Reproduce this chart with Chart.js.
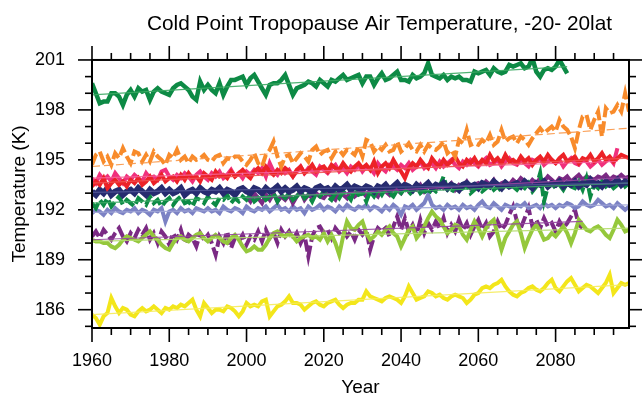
<!DOCTYPE html>
<html>
<head>
<meta charset="utf-8">
<script src="https://cdn.jsdelivr.net/npm/chart.js@4.4.1/dist/chart.umd.min.js"></script>
<style>
  html, body { margin: 0; padding: 0; background: #fff; }
  #wrap { width: 642px; height: 397px; }
</style>
</head>
<body>
<div id="wrap"><canvas id="cpt"></canvas></div>
<script>
// annual values, first year given next to each series
const greenStart = 1960;
const greenSolid = [
  199.6,199.0,198.4,198.5,198.5,199.0,199.0,198.8,198.3,198.9,
  199.2,198.8,199.3,199.1,199.2,198.6,199.1,199.3,199.1,199.0,
  198.9,199.3,199.5,199.6,199.4,199.2,198.8,198.6,199.7,199.2,
  199.5,199.2,199.0,199.6,198.9,199.4,199.8,199.8,199.9,200.0,
  199.5,199.9,200.1,199.7,199.3,198.9,199.5,199.6,199.6,199.8,
  200.1,199.5,198.9,199.3,199.4,199.5,199.7,199.6,199.4,199.8,
  199.6,199.4,199.8,199.7,199.9,200.1,199.8,199.9,200.0,200.1,
  199.6,200.0,200.0,199.5,199.9,200.2,199.8,199.9,200.1,200.3,
  199.8,199.8,199.7,200.1,199.9,200.0,200.2,200.8,200.1,200.0,
  199.9,200.1,199.8,200.0,199.9,200.0,199.8,199.8,199.7,200.3,
  200.2,200.3,200.4,200.1,200.5,200.3,200.2,200.3,200.7,200.6,
  200.7,200.8,200.5,200.6,201.1,200.3,200.0,200.4,200.5,200.4,
  200.6,201.0,200.6,200.2
];
const orangeStart = 1960;
const orangeDash = [
  194.7,195.3,195.5,194.9,195.2,194.7,195.4,195.1,195.7,195.2,
  194.8,195.5,195.4,194.9,195.3,194.9,195.5,195.2,195.0,194.7,
  195.3,195.1,195.6,195.0,195.2,194.8,195.2,195.0,195.1,195.3,
  195.0,194.9,195.2,195.3,194.8,195.1,195.0,195.2,195.2,194.9,
  194.7,195.0,195.4,194.8,194.6,195.3,195.6,196.1,195.2,194.6,
  195.2,195.3,194.8,195.1,195.4,195.2,194.9,195.6,195.8,195.3,
  195.5,195.6,195.1,195.5,195.6,195.3,195.6,195.5,195.3,195.8,
  195.2,196.2,196.1,195.5,195.8,195.6,195.9,195.5,195.6,196.1,
  195.5,195.7,196.0,195.6,195.5,195.9,195.5,195.9,195.7,195.6,
  195.8,196.1,195.4,195.6,195.2,196.2,196.0,196.8,195.9,196.0,
  195.9,196.2,196.0,196.5,195.9,196.1,196.8,196.1,196.3,196.4,
  196.0,196.4,196.2,195.9,196.3,196.6,196.9,196.6,196.8,197.0,
  196.7,197.4,197.0,196.8,196.4,195.7,196.8,197.6,197.7,196.8,
  197.4,197.9,196.4,198.1,197.8,197.9,198.3,197.9,199.0,197.9
];
const redStart = 1960;
const redSolid = [
  193.4,193.7,193.5,193.9,193.3,193.6,193.8,193.5,193.7,193.4,
  193.8,193.6,193.9,193.5,193.7,194.0,193.6,193.8,194.1,193.7,
  193.9,194.0,193.7,194.1,193.8,194.2,193.9,194.0,193.7,194.2,
  194.0,193.8,194.3,194.0,194.1,193.9,194.3,194.0,194.2,194.4,
  194.1,193.9,194.3,194.5,194.2,194.6,194.3,194.1,194.4,194.2,
  194.5,194.3,194.0,194.4,194.6,194.2,194.4,194.7,194.3,194.5,
  194.6,194.3,194.7,194.5,194.4,194.8,194.5,194.3,194.6,194.8,
  194.5,194.7,194.4,194.9,194.2,194.6,194.8,194.5,195.0,194.6,
  194.3,193.9,194.5,194.8,194.6,195.0,194.7,194.5,195.1,194.8,
  194.6,195.0,194.7,194.9,195.2,194.8,194.6,195.0,194.8,195.1,
  194.7,195.0,194.8,195.3,194.9,195.1,194.8,195.3,194.9,195.0,
  194.8,195.2,194.9,195.1,194.7,195.0,195.2,194.9,195.3,195.0,
  194.8,195.1,195.3,194.9,195.0,195.2,194.8,195.1,195.0,195.3,
  194.9,195.1,195.4,195.0,195.2,194.9,195.1,195.3,195.2,195.1
];
const pinkStart = 1960;
const pinkSolid = [
  193.9,193.6,194.1,193.8,194.0,193.7,194.2,193.9,193.6,194.0,
  193.8,194.1,193.9,193.7,194.2,193.9,194.0,193.8,194.3,194.4,
  194.0,193.8,194.1,193.9,194.2,194.0,193.7,194.1,194.3,194.0,
  193.8,194.2,194.0,194.3,193.9,194.1,194.4,194.0,194.2,193.9,
  194.3,194.1,194.4,194.2,194.5,194.0,194.8,194.3,194.1,194.5,
  194.2,194.4,194.0,194.3,194.6,194.2,194.5,194.3,194.1,194.6,
  194.4,194.2,194.5,194.7,194.3,194.5,194.2,194.6,194.4,194.7,
  194.3,194.6,194.5,194.2,194.8,194.5,194.3,194.7,194.6,194.4,
  194.7,194.5,194.8,194.4,194.6,194.9,194.5,194.7,194.8,194.5,
  194.9,194.6,194.8,195.0,194.7,194.5,194.9,194.7,195.0,194.8,
  194.6,194.9,195.1,194.7,194.8,195.0,194.6,194.9,195.1,194.8,
  194.7,195.0,194.8,194.6,195.0,194.9,195.1,194.7,194.9,195.0,
  194.8,195.0,194.6,194.9,195.1,194.8,194.7,195.0,194.9,194.6,
  194.8,195.0,194.7,194.9,195.1,194.8,195.7
];
const navyStart = 1960;
const navySolid = [
  193.1,192.9,193.2,193.0,193.3,192.9,193.1,193.2,192.9,193.1,
  193.2,193.0,193.3,193.1,192.9,193.2,193.0,193.1,193.3,193.0,
  193.2,193.0,193.1,193.3,192.9,193.1,193.2,193.0,193.3,193.1,
  193.0,193.2,193.1,193.3,193.0,193.2,193.1,192.9,193.2,193.3,
  193.1,193.0,193.3,193.2,193.0,193.3,193.1,193.2,193.4,193.1,
  193.3,193.1,193.2,193.4,193.1,193.3,193.2,193.0,193.3,193.4,
  193.2,193.3,193.1,193.4,193.2,193.3,193.5,193.2,193.4,193.3,
  193.2,193.4,193.3,193.1,193.4,193.3,193.5,193.2,193.4,193.6,
  193.3,193.5,193.4,193.2,193.5,193.3,193.4,193.6,193.3,193.5,
  193.4,193.6,193.3,193.5,193.4,193.2,193.5,193.6,193.4,193.5,
  193.3,193.6,193.5,193.4,193.7,193.5,193.3,193.6,193.4,193.5,
  193.6,193.4,193.7,193.5,193.3,193.6,193.5,193.7,193.4,193.6,
  193.5,193.7,193.4,193.6,193.5,193.7,193.4,193.6,193.5,193.8,
  193.5,193.6,193.4,193.7,193.5,193.6,193.8,193.5,193.7,193.6
];
const greenDashStart = 1960;
const greenDash = [
  192.4,192.1,192.6,192.3,192.7,192.2,192.5,192.8,192.3,192.6,
  192.4,192.2,192.7,192.5,192.3,192.8,192.4,192.6,192.2,192.5,
  192.7,192.3,192.6,192.8,192.4,192.5,192.2,192.7,192.6,192.4,
  192.8,192.5,192.3,192.7,192.6,192.9,192.4,192.7,192.5,192.8,
  192.6,192.9,192.5,192.7,192.9,192.6,192.8,193.0,192.5,192.9,
  192.7,193.0,192.6,192.8,193.1,192.7,192.9,192.5,193.0,192.8,
  193.1,192.8,192.6,193.0,192.7,193.1,192.9,192.6,193.2,192.9,
  193.0,192.5,193.1,192.8,193.2,192.9,193.3,193.0,192.8,193.2,
  193.0,193.3,192.9,193.1,193.4,193.0,193.2,192.9,193.3,193.1,
  193.4,194.0,193.2,193.0,193.4,193.1,193.3,193.5,193.0,193.2,
  193.4,193.1,193.3,193.5,193.2,193.4,193.1,193.6,193.3,193.4,
  193.2,193.5,193.3,193.6,193.1,193.4,194.2,192.5,193.4,193.6,
  193.3,193.5,193.2,193.6,193.4,193.3,193.7,193.2,193.9,192.8,
  193.5,193.3,193.7,193.4,193.6,193.3,193.5,193.8,193.4,193.6
];
const purpleStart = 2000;
const purpleSolid = [
  192.8,192.5,193.0,192.7,192.4,192.9,192.6,193.0,192.5,192.8,
  192.6,192.9,192.4,192.8,193.1,192.6,192.9,192.7,193.0,192.8,
  192.7,193.0,192.8,192.6,193.1,192.9,192.7,193.2,192.8,193.0,
  193.1,192.8,193.2,193.0,192.8,193.3,193.1,192.9,193.3,193.2,
  193.0,193.4,193.1,193.3,193.2,193.5,193.1,193.4,193.3,193.2,
  193.5,193.3,193.4,193.6,193.2,193.5,193.4,193.7,193.3,193.5,
  193.6,193.4,193.7,193.5,193.8,193.4,193.6,193.7,193.5,193.8,
  193.6,193.9,193.7,193.5,193.8,193.6,193.9,193.7,194.0,193.8,
  193.6,193.9,193.8,194.0,193.7,193.9,194.1,193.8,194.0,193.9,
  193.8,194.0,193.9,194.1,193.8,194.0,193.9,194.1,193.9,194.0
];
const lavenderStart = 1960;
const lavenderSolid = [
  191.8,192.0,191.9,191.7,192.0,191.8,192.1,191.9,191.8,192.0,
  191.9,192.1,191.8,192.0,191.9,191.7,192.0,191.9,192.1,191.3,
  191.9,192.0,191.8,192.1,191.9,192.0,191.8,192.1,192.0,191.9,
  192.1,191.9,192.0,191.8,192.2,192.0,191.9,192.1,192.0,191.8,
  192.2,192.0,191.9,192.1,192.0,192.2,191.9,192.1,192.3,192.0,
  192.1,191.9,192.2,192.0,192.1,191.8,192.2,192.0,192.1,192.3,
  192.0,192.2,192.1,191.9,192.2,192.0,192.3,192.1,192.0,192.2,
  192.1,192.3,192.0,192.2,192.1,191.9,192.2,192.0,192.3,192.1,
  191.7,192.2,192.1,192.3,192.0,192.2,192.4,192.9,192.3,192.1,
  192.2,192.0,192.3,192.1,192.2,192.0,192.3,192.1,192.2,192.0,
  192.3,192.5,192.2,192.1,192.4,192.2,192.0,192.3,192.2,192.1,
  192.3,192.2,192.4,192.1,192.2,192.3,192.1,192.4,192.2,192.3,
  192.1,192.3,192.2,192.4,192.3,192.1,192.2,192.5,192.3,192.2,
  192.3,192.6,192.4,192.2,192.3,192.1,192.4,192.2,192.0,192.2
];
const purpleDashStart = 1960;
const purpleDash = [
  190.4,190.7,190.3,190.8,190.5,190.2,190.6,190.9,190.4,190.1,
  190.6,190.3,190.8,190.5,190.9,190.2,190.6,190.0,190.7,190.4,
  189.9,190.6,190.2,190.8,190.0,190.5,190.3,189.8,190.6,190.2,
  190.5,190.0,189.3,190.4,190.0,190.7,189.7,190.3,190.1,190.5,
  189.9,190.4,190.2,190.7,190.1,190.8,190.3,190.6,190.0,190.8,
  190.4,190.7,190.2,190.6,190.0,190.5,189.2,190.4,190.9,191.0,
  190.6,190.8,190.3,190.9,190.6,190.8,190.4,190.7,190.2,190.8,
  190.5,190.8,189.6,190.4,190.9,190.7,190.9,190.4,191.0,191.6,
  190.8,191.5,190.7,191.1,190.5,191.4,190.6,191.2,190.8,191.3,
  190.9,191.5,190.6,191.1,190.7,191.4,190.8,191.2,190.5,191.0,
  191.4,190.8,191.2,190.4,190.7,191.3,190.8,191.1,191.7,192.2,
  191.3,190.9,191.5,192.1,191.0,191.4,190.9,191.5,191.0,191.2,
  190.7,191.3,190.9,191.2,191.6,192.0,191.1,190.9
];
const limeStart = 1960;
const limeSolid = [
  190.2,190.1,190.1,190.0,190.0,189.8,189.7,189.9,190.2,190.4,
  190.3,190.2,190.1,190.3,190.5,190.7,190.4,190.2,189.9,189.7,
  189.6,190.0,190.3,190.4,190.2,190.1,190.3,190.5,190.6,190.3,
  190.1,190.3,190.5,190.3,190.1,190.0,190.3,190.5,190.2,189.8,
  189.5,189.6,189.8,189.6,189.6,189.9,190.3,190.6,190.7,190.5,
  190.4,190.6,190.4,190.1,190.3,190.4,190.5,190.3,190.4,190.2,
  190.6,190.1,190.5,190.0,189.3,190.4,191.3,190.9,190.8,191.1,
  191.3,190.6,190.2,190.4,190.7,190.5,190.8,191.0,190.6,190.4,
  189.8,190.3,190.8,191.0,190.3,190.6,191.0,191.5,191.9,191.6,
  191.4,191.0,190.6,190.8,191.1,191.0,190.5,190.2,190.8,191.3,
  190.9,190.4,190.9,191.2,191.4,190.5,189.6,190.3,190.7,191.1,
  191.3,190.6,189.7,190.3,190.8,191.1,190.7,190.2,190.3,190.6,
  190.4,190.7,191.0,190.6,190.0,190.6,191.4,191.1,190.8,190.7,
  190.9,191.0,190.8,190.5,190.3,190.8,191.4,191.1,190.7,190.8
];
const yellowStart = 1960;
const yellowSolid = [
  185.7,185.5,185.1,185.6,185.8,186.7,186.2,185.8,186.1,186.0,
  185.7,185.6,185.9,186.1,185.9,186.0,186.2,186.0,185.8,186.1,
  186.0,186.2,186.1,186.3,186.2,186.4,186.6,186.0,185.6,186.4,
  186.1,185.8,186.0,186.0,185.9,186.2,186.1,185.9,185.6,185.9,
  186.4,186.2,186.3,186.2,186.5,186.6,185.6,185.9,186.2,186.3,
  186.5,186.8,186.4,186.4,186.3,186.0,186.2,186.4,186.5,186.3,
  186.2,186.4,186.5,186.6,186.3,186.1,186.3,186.4,186.4,186.6,
  186.6,187.1,186.8,186.7,186.6,186.5,186.7,186.8,186.7,186.6,
  186.4,186.8,187.4,187.0,186.6,186.7,186.8,187.1,187.0,186.8,
  186.9,186.7,186.6,186.8,186.9,186.8,186.7,186.4,186.6,186.9,
  187.0,187.3,187.4,187.3,187.5,187.6,187.8,187.4,187.1,186.9,
  186.8,187.0,187.1,187.3,187.4,187.2,187.1,187.3,187.6,187.8,
  187.3,187.1,187.4,187.7,187.9,187.5,187.1,187.3,187.5,187.4,
  187.2,187.0,187.3,187.6,188.1,187.0,187.3,187.6,187.5,187.6
];

// fitted trend lines: value at the first and at the last year of each series
const greenTrend = [198.9, 200.6];
const orangeTrend = [194.6, 196.9];
const redTrend = [193.6, 195.1];
const pinkTrend = [193.9, 194.9];
const navyTrend = [193.05, 193.6];
const greenDashTrend = [192.4, 193.6];
const purpleTrend = [192.7, 193.95];
const lavenderTrend = [191.85, 192.3];
const purpleDashTrend = [190.2, 191.3];
const limeTrend = [190.1, 190.9];
const yellowTrend = [185.7, 187.5];

const xTickLabels = [1960, 1980, 2000, 2020, 2040, 2060, 2080];
const yTickLabels = [186, 189, 192, 195, 198, 201];

const FONT = "'Liberation Sans', Arial, Helvetica, sans-serif";

function pts(start, vals) {
  return vals.map((v, i) => ({ x: start + i, y: v }));
}

function series(start, vals, color, width, dash) {
  return {
    data: pts(start, vals),
    borderColor: color,
    borderWidth: width,
    borderDash: dash || [],
    pointRadius: 0,
    tension: 0,
    fill: false
  };
}

function trend(start, vals, tr, color, dash) {
  const end = start + vals.length - 1;
  return {
    data: [{ x: start, y: tr[0] }, { x: end, y: tr[1] }],
    borderColor: color,
    borderWidth: 1.2,
    borderDash: dash || [],
    pointRadius: 0,
    fill: false
  };
}

// first in the list is drawn on top
const datasets = [
  trend(greenStart, greenSolid, greenTrend, 'rgba(60,170,100,0.9)'),
  trend(orangeStart, orangeDash, orangeTrend, 'rgba(250,150,70,0.9)', [8, 4]),
  trend(redStart, redSolid, redTrend, 'rgba(240,80,80,0.9)'),
  trend(pinkStart, pinkSolid, pinkTrend, 'rgba(245,100,150,0.9)'),
  trend(navyStart, navySolid, navyTrend, 'rgba(80,85,150,0.9)'),
  trend(greenDashStart, greenDash, greenDashTrend, 'rgba(60,170,100,0.9)'),
  trend(purpleStart, purpleSolid, purpleTrend, 'rgba(150,70,160,0.9)'),
  trend(lavenderStart, lavenderSolid, lavenderTrend, 'rgba(160,165,215,0.9)'),
  trend(purpleDashStart, purpleDash, purpleDashTrend, 'rgba(150,70,160,0.9)'),
  trend(limeStart, limeSolid, limeTrend, 'rgba(180,220,110,0.9)'),
  trend(yellowStart, yellowSolid, yellowTrend, 'rgba(245,235,90,0.9)'),
  series(greenStart, greenSolid, '#0d8a45', 4.5),
  series(orangeStart, orangeDash, '#f88b2b', 4, [12, 4]),
  series(redStart, redSolid, '#ec2227', 4),
  series(pinkStart, pinkSolid, '#f0307c', 4),
  series(navyStart, navySolid, '#262b6f', 6),
  series(greenDashStart, greenDash, '#0d8a45', 4, [12, 4]),
  series(purpleStart, purpleSolid, '#7b2a84', 4),
  series(lavenderStart, lavenderSolid, '#7c82c4', 4),
  series(limeStart, limeSolid, '#95c83c', 4),
  series(purpleDashStart, purpleDash, '#7b2a84', 4, [12, 4]),
  series(yellowStart, yellowSolid, '#f3e61a', 4)
];

// box round the plot with outward ticks on all four sides
const frameTicks = {
  id: 'frameTicks',
  afterLayout(chart) {
    // the title sits a little right of the plot centre
    if (chart.titleBlock) {
      chart.titleBlock.left += 19;
      chart.titleBlock.right += 19;
    }
  },
  afterDraw(chart) {
    const { ctx, chartArea: a, scales: { x, y } } = chart;
    ctx.save();
    ctx.strokeStyle = '#000';
    ctx.lineCap = 'butt';
    const seg = (x1, y1, x2, y2) => {
      ctx.beginPath(); ctx.moveTo(x1, y1); ctx.lineTo(x2, y2); ctx.stroke();
    };
    ctx.lineWidth = 1.6;
    for (let yr = 1960; yr <= x.max; yr += 5) {
      const px = x.getPixelForValue(yr);
      const len = xTickLabels.includes(yr) ? 14 : 7;
      seg(px, a.bottom, px, a.bottom + len);
      seg(px, a.top, px, a.top - len);
    }
    for (let t = Math.ceil(y.min); t <= y.max; t++) {
      const py = y.getPixelForValue(t);
      const len = yTickLabels.includes(t) ? 14 : 7;
      seg(a.left, py, a.left - len, py);
      seg(a.right, py, a.right + len, py);
    }
    ctx.lineWidth = 2;
    ctx.strokeRect(a.left, a.top, a.right - a.left, a.bottom - a.top);
    ctx.restore();
  }
};

new Chart(document.getElementById('cpt').getContext('2d'), {
  type: 'line',
  data: { datasets },
  plugins: [frameTicks],
  options: {
    responsive: true,
    maintainAspectRatio: false,
    animation: false,
    layout: { padding: { top: 0, right: 13, bottom: 0, left: 0 } },
    plugins: {
      legend: { display: false },
      tooltip: { enabled: false },
      title: {
        display: true,
        fullSize: false,
        text: 'Cold Point Tropopause Air Temperature, -20- 20lat',
        color: '#000',
        font: { family: FONT, size: 20.8, weight: 'normal', lineHeight: 1.2 },
        padding: { top: 12, bottom: 23 }
      }
    },
    scales: {
      x: {
        type: 'linear',
        min: 1960,
        max: 2099,
        grid: { display: false },
        border: { display: false },
        afterBuildTicks: (s) => { s.ticks = xTickLabels.map(v => ({ value: v })); },
        afterFit: (s) => { s.height = 69; },
        ticks: {
          color: '#000',
          padding: 16,
          maxRotation: 0,
          font: { family: FONT, size: 18, lineHeight: 1 },
          callback: (v) => String(v)
        },
        title: {
          display: true,
          text: 'Year',
          color: '#000',
          font: { family: FONT, size: 19, lineHeight: 1 },
          padding: { top: 0, bottom: 0 }
        }
      },
      y: {
        min: 184.9,
        max: 201,
        grid: { display: false },
        border: { display: false },
        afterBuildTicks: (s) => { s.ticks = yTickLabels.map(v => ({ value: v })); },
        afterFit: (s) => { s.width = 92; },
        ticks: {
          color: '#000',
          padding: 19,
          font: { family: FONT, size: 18, lineHeight: 1 },
          callback: (v) => String(v)
        },
        title: {
          display: true,
          text: 'Temperature (K)',
          color: '#000',
          font: { family: FONT, size: 19, lineHeight: 1 },
          padding: { top: 10.5, bottom: 0 }
        }
      }
    }
  }
});
</script>
</body>
</html>
